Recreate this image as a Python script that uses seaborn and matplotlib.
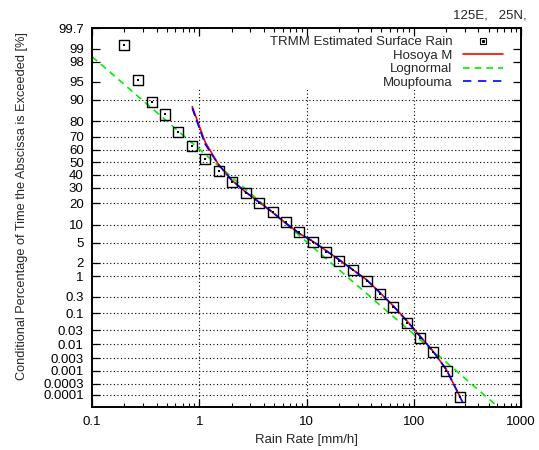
import math
import numpy as np
import pandas as pd
import matplotlib
matplotlib.use("Agg")
import matplotlib.pyplot as plt
import seaborn as sns
from matplotlib.lines import Line2D
from matplotlib.ticker import FixedLocator, FixedFormatter, NullLocator, NullFormatter, LogLocator

# ---------------- data ----------------
trmm_rate = [0.20, 0.27, 0.36, 0.48, 0.64, 0.86, 1.14, 1.53, 2.03, 2.71, 3.60, 4.83, 6.43,
             8.55, 11.4, 15.2, 20.2, 26.9, 36.3, 48.3, 64.3, 85.7, 115, 152, 202, 269]
trmm_pct = [99.20, 95.4, 89.1, 83.6, 73.5, 63.4, 52.8, 43.3, 34.2, 26.8, 20.5, 15.4, 11.1,
            7.65, 5.11, 3.39, 2.22, 1.37, 0.778, 0.363, 0.155, 0.0512, 0.0165, 0.00516,
            0.000996, 0.0000801]

hosoya_rate = [0.86, 1.13, 1.50, 2.0, 2.67, 3.55, 4.73, 6.29, 8.7, 11.4, 15.2, 20.2, 26.9,
               36.3, 48.3, 64.3, 85.7, 115, 152, 202, 269]
hosoya_pct = [87.3, 66.4, 48.7, 35.9, 27.5, 21.1, 15.7, 10.9, 7.16, 5.33, 3.55, 2.30, 1.41,
              0.81, 0.385, 0.166, 0.0604, 0.0183, 0.00542, 0.00109, 0.0000829]

moup_rate = [0.86, 1.13, 1.50, 2.0, 2.67, 3.55, 4.73, 6.29, 8.7, 11.4, 15.2, 20.2, 26.9,
             36.3, 48.3, 64.3, 85.7, 115, 152, 202, 269, 300]
moup_pct = [86.6, 64.8, 48.5, 35.9, 27.5, 21.1, 15.7, 10.9, 7.16, 5.33, 3.55, 2.30, 1.41,
            0.81, 0.385, 0.166, 0.0604, 0.0183, 0.00542, 0.00109, 0.0000829, 0.000027]

logn_rate = [0.1, 1, 10, 100, 608]
logn_pct = [98.47, 60.6, 5.22, 0.0218, 0.0000287]

y_ticks = [0.0001, 0.0003, 0.001, 0.003, 0.01, 0.03, 0.1, 0.3, 1, 2, 5, 10, 20, 30, 40,
           50, 60, 70, 80, 90, 95, 98, 99, 99.7]
y_tick_labels = ["0.0001", "0.0003", "0.001", "0.003", "0.01", "0.03", "0.1", "0.3", "1",
                 "2", "5", "10", "20", "30", "40", "50", "60", "70", "80", "90", "95", "98",
                 "99", "99.7"]
y_grid = [0.0001, 0.0003, 0.001, 0.003, 0.01, 0.03, 0.1, 0.3, 1, 2, 5, 10, 20, 30, 40,
          50, 60, 70, 80, 90]
x_ticks = [0.1, 1, 10, 100, 1000]
x_tick_labels = ["0.1", "1", "10", "100", "1000"]
x_grid = [1, 10, 100]

# ---------------- normal probability scale ----------------
_A = [-3.969683028665376e+01, 2.209460984245205e+02, -2.759285104469687e+02,
      1.383577518672690e+02, -3.066479806614716e+01, 2.506628277459239e+00]
_B = [-5.447609879822406e+01, 1.615858368580409e+02, -1.556989798598866e+02,
      6.680131188771972e+01, -1.328068155288572e+01]
_C = [-7.784894002430293e-03, -3.223964580411365e-01, -2.400758277161838e+00,
      -2.549732539343734e+00, 4.374664141464968e+00, 2.938163982698783e+00]
_D = [7.784695709041462e-03, 3.224671290700398e-01, 2.445134137142996e+00,
      3.754408661907416e+00]


def _ppf_scalar(p):
    p = min(max(p, 1e-15), 1 - 1e-15)
    plow = 0.02425
    if p < plow:
        q = math.sqrt(-2 * math.log(p))
        return (((((_C[0]*q+_C[1])*q+_C[2])*q+_C[3])*q+_C[4])*q+_C[5]) / \
               ((((_D[0]*q+_D[1])*q+_D[2])*q+_D[3])*q+1)
    if p > 1 - plow:
        q = math.sqrt(-2 * math.log(1 - p))
        return -(((((_C[0]*q+_C[1])*q+_C[2])*q+_C[3])*q+_C[4])*q+_C[5]) / \
                ((((_D[0]*q+_D[1])*q+_D[2])*q+_D[3])*q+1)
    q = p - 0.5
    r = q * q
    return (((((_A[0]*r+_A[1])*r+_A[2])*r+_A[3])*r+_A[4])*r+_A[5])*q / \
           (((((_B[0]*r+_B[1])*r+_B[2])*r+_B[3])*r+_B[4])*r+1)


_ppf_vec = np.vectorize(lambda v: _ppf_scalar(v), otypes=[float])
_cdf_vec = np.vectorize(lambda z: 0.5 * math.erfc(-z / math.sqrt(2)), otypes=[float])


def forward(pct):
    pct = np.asarray(pct, dtype=float)
    return _ppf_vec(np.nan_to_num(pct, nan=50.0) / 100.0)


def inverse(z):
    z = np.asarray(z, dtype=float)
    return 100.0 * _cdf_vec(np.clip(np.nan_to_num(z), -38, 38))


# ---------------- style ----------------
FS = 9.5
sns.set_style("ticks")
plt.rcParams["font.family"] = ["Liberation Sans", "DejaVu Sans"]
plt.rcParams["font.size"] = FS

fig = plt.figure(figsize=(5.39, 4.5), dpi=100)
ax = fig.add_axes([92 / 539, 1 - 406.7 / 450, 429 / 539, 378.7 / 450])

ax.set_xscale("log")
ax.set_yscale("function", functions=(forward, inverse))

df_trmm = pd.DataFrame({"rate": trmm_rate, "pct": trmm_pct})
df_hos = pd.DataFrame({"rate": hosoya_rate, "pct": hosoya_pct})
df_moup = pd.DataFrame({"rate": moup_rate, "pct": moup_pct})
df_logn = pd.DataFrame({"rate": logn_rate, "pct": logn_pct})

# grid (dotted, gnuplot-like)
for gy in y_grid:
    ax.axhline(gy, color="black", lw=0.8, linestyle=(0, (1, 2.2)), zorder=0.5)
for gx in x_grid:
    ax.axvline(gx, ymin=0, ymax=(406.7 - 88) / 378.7, color="black", lw=0.8,
               linestyle=(0, (1, 2.2)), zorder=0.5)

sns.lineplot(data=df_logn, x="rate", y="pct", sort=False, estimator=None, ax=ax,
             color="#00ee00", lw=1.2, linestyle=(0, (4, 3)), zorder=2)
sns.lineplot(data=df_hos, x="rate", y="pct", sort=False, estimator=None, ax=ax,
             color="#ff0000", lw=1.2, zorder=3)
sns.lineplot(data=df_moup, x="rate", y="pct", sort=False, estimator=None, ax=ax,
             color="#0000ff", lw=1.2, linestyle=(0, (5, 2.5)), zorder=4)

sns.scatterplot(data=df_trmm, x="rate", y="pct", marker="s", s=52, facecolor="none",
                edgecolor="black", linewidth=1.0, ax=ax, zorder=5)
sns.scatterplot(data=df_trmm, x="rate", y="pct", marker="s", s=1.6, color="black",
                linewidth=0, ax=ax, zorder=6)

ax.set_xlim(0.1, 1000)
ax.set_ylim(inverse(-5.0), 99.7)

ax.xaxis.set_major_locator(FixedLocator(x_ticks))
ax.xaxis.set_major_formatter(FixedFormatter(x_tick_labels))
ax.xaxis.set_minor_locator(LogLocator(base=10, subs=np.arange(2, 10)))
ax.xaxis.set_minor_formatter(NullFormatter())
ax.yaxis.set_major_locator(FixedLocator(y_ticks))
ax.yaxis.set_major_formatter(FixedFormatter(y_tick_labels))
ax.yaxis.set_minor_locator(NullLocator())

ax.tick_params(axis="both", which="both", direction="in", top=True, right=True,
               colors="black", labelsize=FS)
ax.tick_params(axis="both", which="major", length=5.5, width=0.9)
ax.tick_params(axis="x", which="minor", length=3, width=0.8)
ax.tick_params(axis="x", which="major", pad=6.5)
ax.tick_params(axis="y", which="major", pad=6)
for sp in ax.spines.values():
    sp.set_visible(True)
    sp.set_linewidth(1.4)
    sp.set_color("black")

ax.set_xlabel("Rain Rate [mm/h]", fontsize=FS)
ax.set_ylabel("Conditional Percentage of Time the Abscissa is Exceeded [%]", fontsize=9.2)
ax.xaxis.set_label_coords(0.5, -0.072)
ax.yaxis.set_label_coords(-0.15, 0.529)

fig.text(527 / 539, 1 - 15 / 450, "125E,   25N,", ha="right", va="center", fontsize=FS)

h_trmm = (Line2D([], [], marker="s", ms=5, mfc="none", mec="black", mew=0.8, ls=""),
          Line2D([], [], marker="s", ms=1.2, color="black", ls=""))
h_hos = Line2D([], [], color="#ff0000", lw=1.2)
h_logn = Line2D([], [], color="#00ee00", lw=1.2, linestyle=(0, (4, 3)))
h_moup = Line2D([], [], color="#0000ff", lw=1.2, linestyle=(0, (5, 4)))
ax.legend([h_trmm, h_hos, h_logn, h_moup],
          ["TRMM Estimated Surface Rain", "Hosoya M", "Lognormal", "Moupfouma"],
          loc="upper right", bbox_to_anchor=((503 - 92) / 429, (406.7 - 36.1) / 378.7),
          frameon=False, markerfirst=False, handlelength=3.0, handletextpad=0.85,
          labelspacing=0.09, borderpad=0, borderaxespad=0, fontsize=FS)

fig.savefig("out.png", dpi=100)
